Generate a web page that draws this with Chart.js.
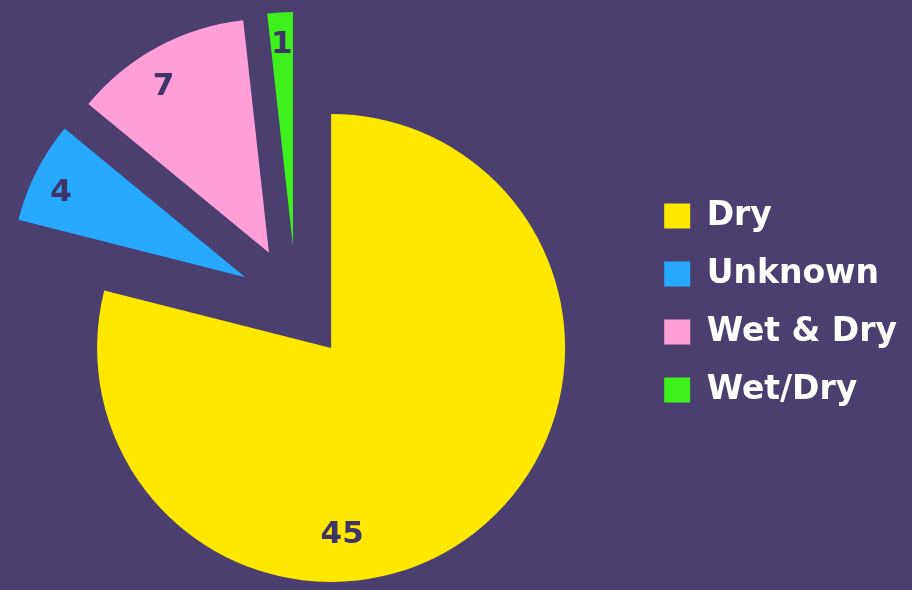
<!DOCTYPE html>
<html lang="en">
<head>
  <meta charset="UTF-8">
  <title>Pie</title>
  <script src="https://cdn.jsdelivr.net/npm/chart.js"></script>
  <style>
    html, body {
      margin: 0;
      padding: 0;
      overflow: hidden;
      background-color: #4a3f6f;
    }
    /* canvas starts a bit left of the window so the pie sits where the original does */
    .wrap {
      position: relative;
      margin-left: -47px;
      width: 959px;
      height: 590px;
    }
  </style>
</head>
<body>
<div class="wrap">
  <canvas id="pieChart"></canvas>
</div>

<script>
  const categories = ["Dry", "Unknown", "Wet & Dry", "Wet/Dry"];
  const counts = [45, 4, 7, 1];
  const colors = ["#ffe800", "#27a9ff", "#ff9fd8", "#3ef01c"];

  // pull every slice out from the centre by the same distance
  const explodePlugin = {
    id: "explode",
    afterDatasetsUpdate(chart, args, opts) {
      const meta = chart.getDatasetMeta(0);
      meta.data.forEach(arc => {
        const mid = (arc.startAngle + arc.endAngle) / 2;
        arc.x += Math.cos(mid) * opts.distance;
        arc.y += Math.sin(mid) * opts.distance;
      });
    }
  };

  // value written inside each slice
  const valueLabels = {
    id: "valueLabels",
    afterDatasetsDraw(chart, args, opts) {
      const ctx = chart.ctx;
      const meta = chart.getDatasetMeta(0);
      ctx.save();
      ctx.font = opts.font;
      ctx.fillStyle = opts.color;
      ctx.textAlign = "center";
      ctx.textBaseline = "middle";
      meta.data.forEach((arc, i) => {
        const shift = (opts.angleShift[i] || 0) * Math.PI / 180;
        const a = (arc.startAngle + arc.endAngle) / 2 + shift;
        const r = arc.outerRadius * (opts.radius[i] || 0.84);
        ctx.fillText(String(counts[i]), arc.x + Math.cos(a) * r, arc.y + Math.sin(a) * r);
      });
      ctx.restore();
    }
  };

  new Chart(document.getElementById("pieChart"), {
    type: "pie",
    data: {
      labels: categories,
      datasets: [{
        data: counts,
        backgroundColor: colors,
        borderWidth: 0
      }]
    },
    options: {
      responsive: true,
      maintainAspectRatio: false,
      animation: false,
      radius: 234,
      layout: {
        padding: { left: 0, right: 5, top: 16, bottom: 0 }
      },
      plugins: {
        explode: { distance: 57 },
        valueLabels: {
          font: "bold 31px 'DejaVu Sans', sans-serif",
          color: "#3e3468",
          angleShift: [34.5, -2.3, -4, 0],
          radius: [0.8, 0.865, 0.84, 0.86]
        },
        tooltip: { enabled: false },
        legend: {
          position: "right",
          labels: {
            color: "#ffffff",
            boxWidth: 26,
            boxHeight: 25,
            padding: 25,
            font: { family: "'DejaVu Sans', sans-serif", size: 33, weight: "bold" }
          }
        }
      }
    },
    plugins: [explodePlugin, valueLabels]
  });
</script>
</body>
</html>
